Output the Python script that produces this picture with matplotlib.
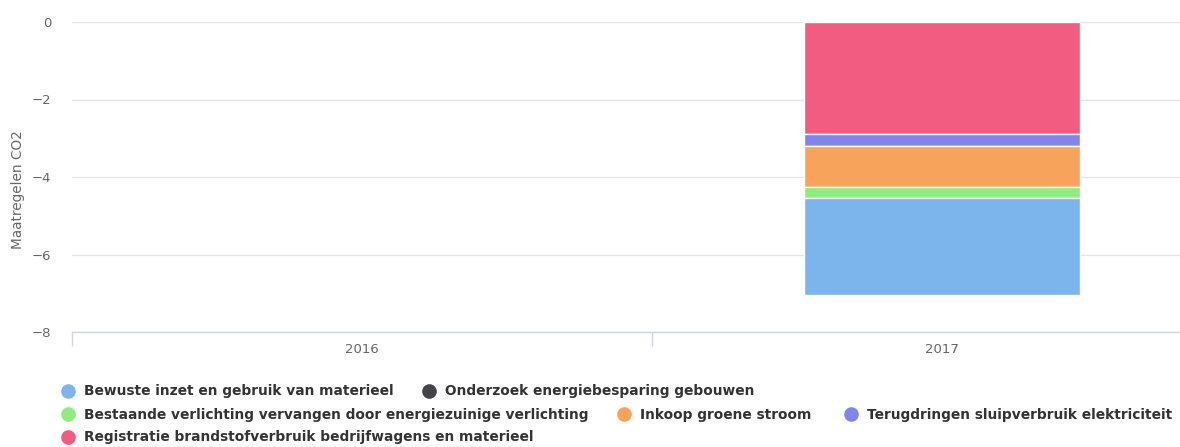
import numpy as np
import matplotlib.pyplot as plt
from matplotlib.lines import Line2D

# data (2016 has no measures)
years = ["2016", "2017"]
series_names = [
    "Bewuste inzet en gebruik van materieel",
    "Onderzoek energiebesparing gebouwen",
    "Bestaande verlichting vervangen door energiezuinige verlichting",
    "Inkoop groene stroom",
    "Terugdringen sluipverbruik elektriciteit",
    "Registratie brandstofverbruik bedrijfwagens en materieel",
]
bewuste = [0.0, -2.50]
onderzoek = [0.0, 0.0]
verlichting = [0.0, -0.28]
groene_stroom = [0.0, -1.07]
sluipverbruik = [0.0, -0.30]
registratie = [0.0, -2.89]
colors = ["#7cb5ec", "#434348", "#90ed7d", "#f7a35c", "#8085e9", "#f15c80"]

values = [bewuste, onderzoek, verlichting, groene_stroom, sluipverbruik, registratie]

W, H = 1180, 447
fig = plt.figure(figsize=(W / 100, H / 100), dpi=100)
# plot area runs past the right edge of the picture, like the cropped original
ax = fig.add_axes([72 / W, (H - 332) / H, 1160 / W, 310 / H])

x = np.arange(len(years))
# highcharts stacks the last series nearest to zero
bottom = np.zeros(len(years))
for i in reversed(range(len(values))):
    v = np.array(values[i])
    bars = ax.bar(x, v, bottom=bottom, width=0.476, color=colors[i],
                  edgecolor="white", linewidth=1, zorder=3)
    for b, val in zip(bars, v):
        if val == 0:
            b.set_visible(False)
    bottom = bottom + v

ax.set_xlim(-0.5, 1.5)
ax.set_ylim(-8, 0)
ax.set_yticks([0, -2, -4, -6, -8])
ax.set_yticklabels(["0", "\u22122", "\u22124", "\u22126", "\u22128"])
ax.grid(axis="y", color="#e6e6e6", linewidth=1, zorder=0)
ax.set_xticks(x)
ax.set_xticklabels(years)
ax.set_xticks([-0.5, 0.5, 1.5], minor=True)
ax.tick_params(axis="x", which="major", length=0, pad=8, labelsize=9.5, colors="#666666")
ax.tick_params(axis="x", which="minor", length=10, color="#ccd6eb", width=1)
ax.tick_params(axis="y", length=0, pad=15, labelsize=9.5, labelcolor="#666666")
for s in ["top", "right", "left"]:
    ax.spines[s].set_visible(False)
ax.spines["bottom"].set_color("#ccd6eb")
ax.spines["bottom"].set_linewidth(1)

fig.text(18 / W, (H - 190) / H, "Maatregelen CO2", rotation=90, ha="center",
         va="center", fontsize=9.8, color="#666666")

# legend items placed like the highcharts flow legend (pixel spots of the markers)
legend_spots = [(68, 391), (429, 391), (68, 414), (624, 414), (851, 414), (68, 437)]
for i, (px, py) in enumerate(legend_spots):
    fx, fy = px / W, (H - py) / H
    fig.add_artist(Line2D([fx], [fy], transform=fig.transFigure, marker="o",
                          markersize=9.5, color=colors[i], linestyle=""))
    fig.text(fx + 16 / W, fy + 1 / H, series_names[i], ha="left", va="center_baseline",
             fontsize=9.9, fontweight="bold", color="#333333")

fig.savefig("out.png", dpi=100)
